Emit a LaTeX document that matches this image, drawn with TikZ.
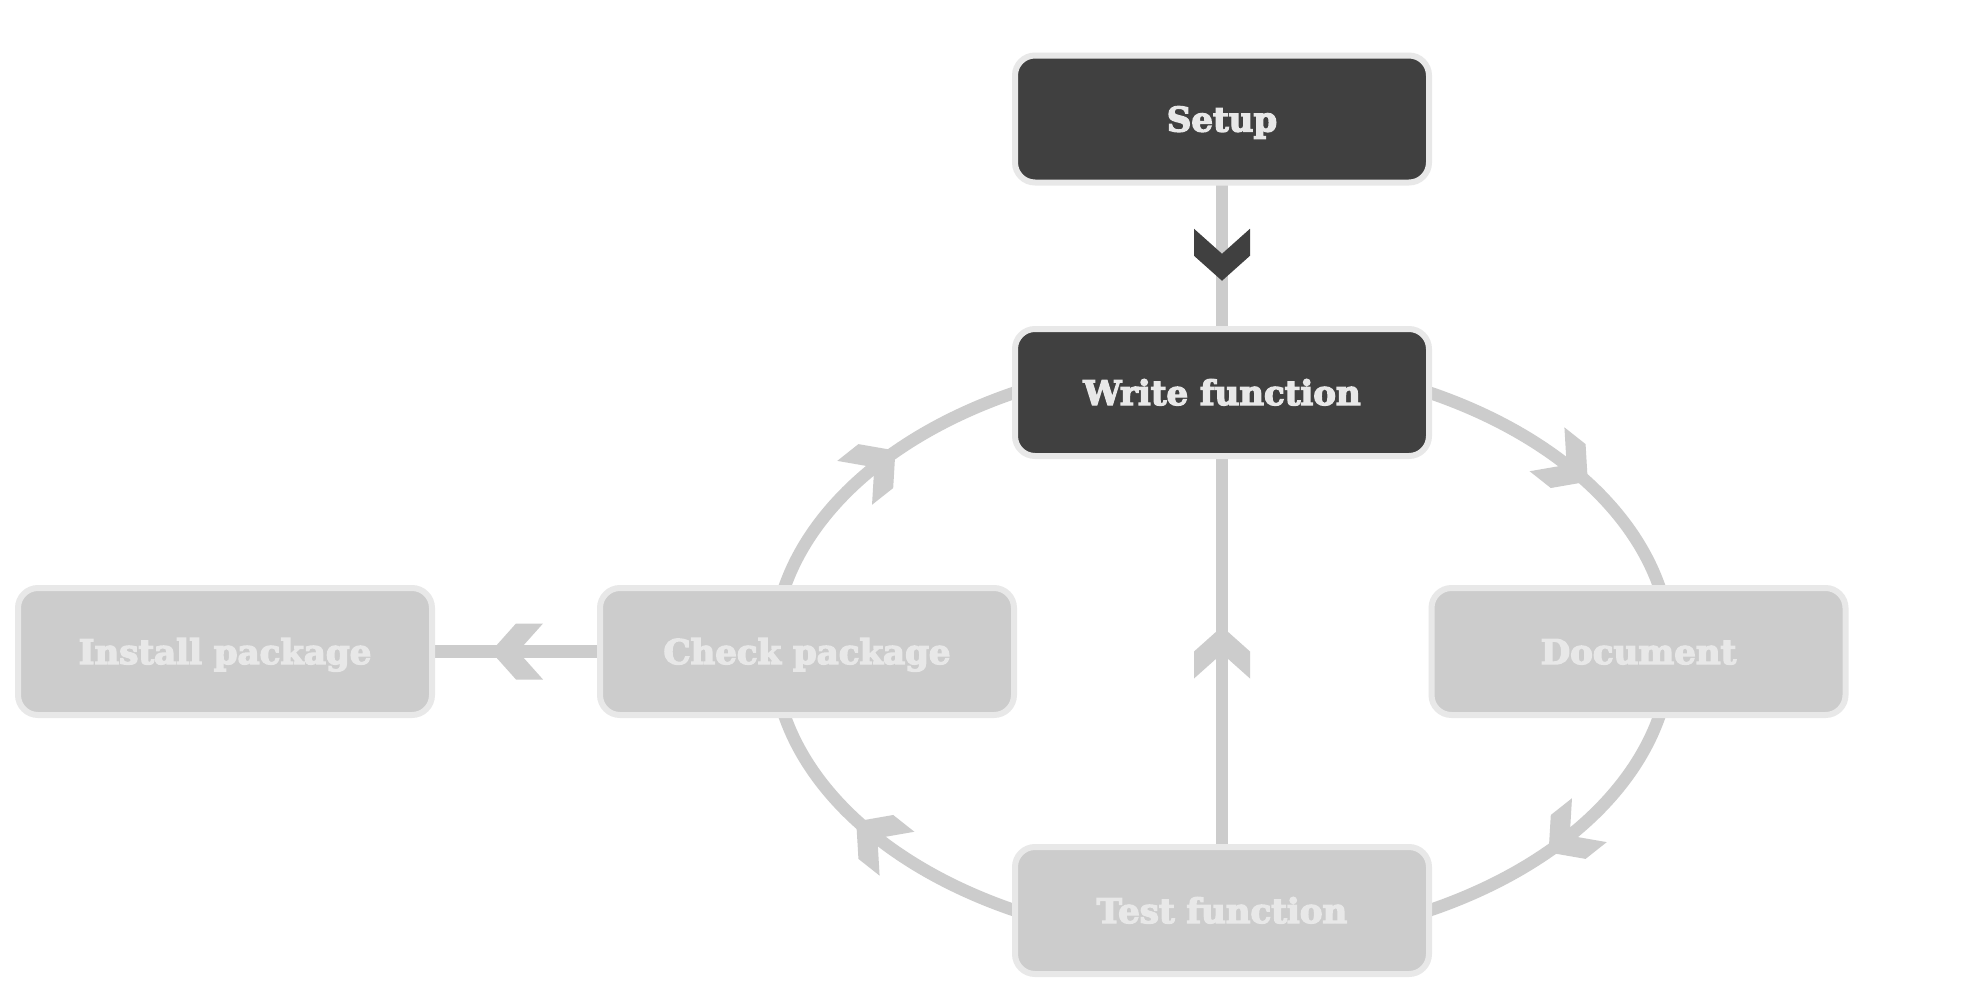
\documentclass[tikz,border=0pt]{standalone}
\usepackage{fontspec}
\setmainfont{DejaVu Serif}[BoldFeatures={FakeBold=4}]
\usetikzlibrary{decorations.markings,backgrounds}
\definecolor{cDark}{HTML}{404040}
\definecolor{cLight}{HTML}{CCCCCC}
\definecolor{cRim}{HTML}{E8E8E8}
\definecolor{cWire}{HTML}{CCCCCC}
\tikzset{
  box/.style={rectangle, rounded corners=20pt, draw=cRim, line width=6pt,
    minimum width=414pt, minimum height=127pt, text=cRim,
    font=\fontsize{34}{40}\selectfont\bfseries, inner sep=0pt, outer sep=0pt,
    text height=25pt, text depth=0pt},
  darknode/.style={box, fill=cDark},
  lightnode/.style={box, fill=cLight},
  conn/.style={draw=cWire, line width=12.5pt},
  chev/.style={postaction={decorate}, decoration={markings, mark=at position 0.5 with {\fill[#1] (25pt,0pt) -- (0pt,28pt) -- (-27pt,28pt) -- (-2pt,0pt) -- (-27pt,-28pt) -- (0pt,-28pt) -- cycle;}}},
  chev/.default=cWire,
  chevback/.style={postaction={decorate}, decoration={markings, mark=at position 0.5 with {\fill[#1, rotate=180] (25pt,0pt) -- (0pt,28pt) -- (-27pt,28pt) -- (-2pt,0pt) -- (-27pt,-28pt) -- (0pt,-28pt) -- cycle;}}},
  chevback/.default=cWire,
  ell/.style={x radius=449, y radius=293}
}
\begin{document}
\begin{tikzpicture}[x=1pt,y=1pt]
\useasboundingbox (0,0) rectangle (1966,-1004);

\node[darknode] (setup) at (1222,-119) {Setup};
\node[darknode] (write) at (1222,-392.5) {Write function};
\node[lightnode] (install) at (225,-651.5) {Install package};
\node[lightnode] (check) at (807,-651.5) {Check package};
\node[lightnode] (doc) at (1638.5,-651.5) {Document};
\node[lightnode] (test) at (1222,-910.5) {Test function};

\begin{pgfonlayer}{background}
\fill[white] (0,0) rectangle (1966,-1004);
\draw[conn, chev=cDark] (setup.south) -- (write.north);
\draw[conn, chev] (check.west) -- (install.east);
\draw[conn, chev] (test.north) -- (write.south);
\draw[conn, chev] (write.east) arc[start angle=62.5, end angle=12, ell];
\draw[conn, chevback] (test.east) arc[start angle=-62.5, end angle=-12, ell];
\draw[conn, chev] (test.west) arc[start angle=242.5, end angle=192, ell];
\draw[conn, chevback] (write.west) arc[start angle=117.5, end angle=168, ell];
\end{pgfonlayer}
\end{tikzpicture}
\end{document}
